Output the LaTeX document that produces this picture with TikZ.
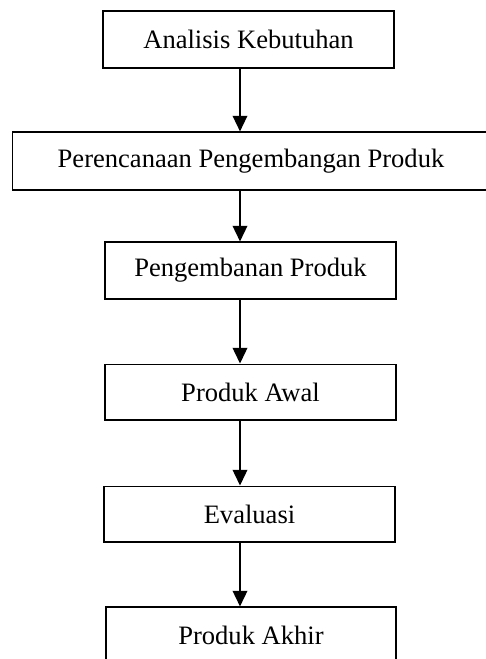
\documentclass[tikz,border=0pt]{standalone}
\usepackage{fontspec}
\setmainfont{Liberation Serif}
\usetikzlibrary{arrows.meta}

\begin{document}
\begin{tikzpicture}[
        x=0.4667pt, y=-0.4667pt,
        stepbox/.style={draw, line width=0.6pt, minimum height=26.5pt, inner sep=0pt},
        arrow/.style={line width=0.8pt, -{Triangle[length=7.3pt, width=6.8pt]}},
        font=\fontsize{12.4}{14}\selectfont
    ]

    % ==========================================
    % FRAME: page size of the reference
    % ==========================================
    \useasboundingbox (0,0) rectangle (486,659);
    \clip (0,0) rectangle (486,659);

    % ==========================================
    % BOXES
    % ==========================================
    \node[stepbox, minimum width=135.8pt] (analisis) at (248.5, 39.5) {Analisis Kebutuhan};
    \node[stepbox, minimum width=222.6pt, minimum height=27pt] (perencanaan) at (251, 161) {Perencanaan Pengembangan Produk};
    \node[stepbox, minimum width=135.8pt] (pengembanan) at (250.5, 270.5) {Pengembanan Produk};
    \node[stepbox, minimum width=135.8pt, minimum height=26pt] (awal) at (250.5, 392) {Produk Awal};
    \node[stepbox, minimum width=135.8pt, minimum height=26pt] (evaluasi) at (249.5, 514) {Evaluasi};
    \node[stepbox, minimum width=135.3pt] (akhir) at (251, 635.5) {Produk Akhir};

    % ==========================================
    % ARROWS (off centre, on one line)
    % ==========================================
    \coordinate (ax) at (240, 0);
    \draw[arrow] (analisis.south -| ax) -- (perencanaan.north -| ax);
    \draw[arrow] (perencanaan.south -| ax) -- (pengembanan.north -| ax);
    \draw[arrow] (pengembanan.south -| ax) -- (awal.north -| ax);
    \draw[arrow] (awal.south -| ax) -- (evaluasi.north -| ax);
    \draw[arrow] (evaluasi.south -| ax) -- (akhir.north -| ax);

\end{tikzpicture}
\end{document}
